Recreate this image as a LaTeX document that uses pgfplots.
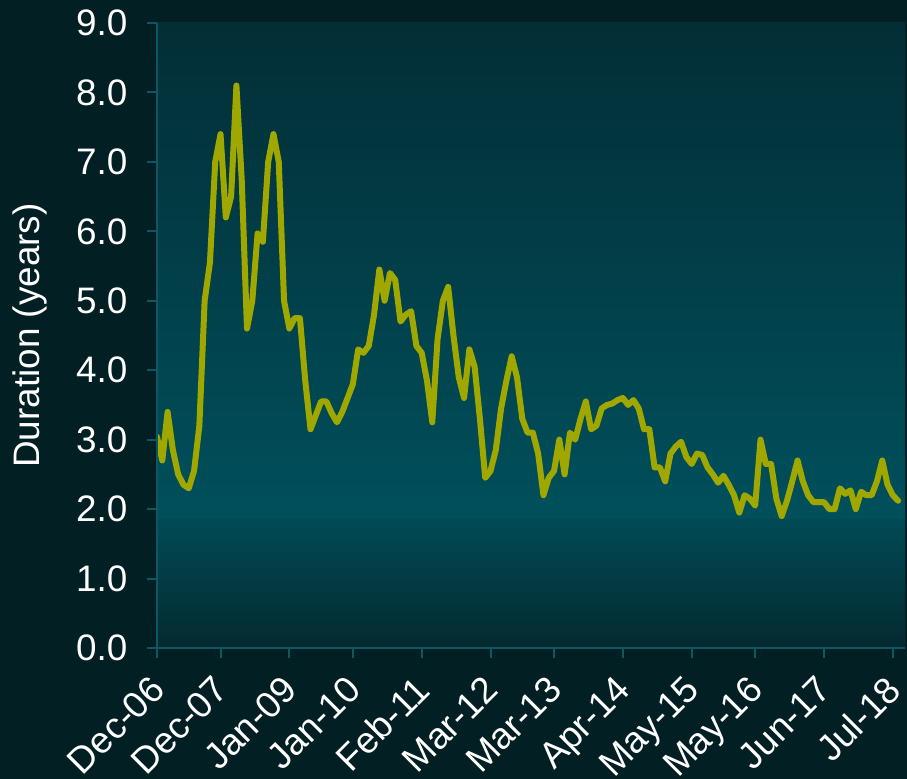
\documentclass[border=0pt]{standalone}
\usepackage{pgfplots}
\pgfplotsset{compat=1.18}
\usepackage{fontspec}
\setmainfont{Liberation Sans}
\definecolor{outerbg}{RGB}{2,31,35}
\definecolor{plottop}{RGB}{3,46,54}
\definecolor{plotmid}{RGB}{0,80,92}
\definecolor{plotmidb}{RGB}{1,74,85}
\definecolor{plotbot}{RGB}{4,42,48}
\definecolor{axcol}{RGB}{14,86,98}
\definecolor{linecol}{RGB}{160,168,0}
\pgfplotstableread{
m v
0 3.04
1 2.70
2 3.40
3 2.85
4 2.50
5 2.35
6 2.30
7 2.55
8 3.20
9 5.00
10 5.55
11 7.00
12 7.40
13 6.20
14 6.50
15 8.10
16 6.75
17 4.60
18 5.00
19 5.97
20 5.85
21 7.00
22 7.40
23 7.00
24 5.00
25 4.60
26 4.75
27 4.75
28 3.85
29 3.15
30 3.35
31 3.55
32 3.55
33 3.38
34 3.25
35 3.40
36 3.60
37 3.80
38 4.30
39 4.25
40 4.35
41 4.80
42 5.45
43 5.00
44 5.40
45 5.30
46 4.70
47 4.80
48 4.85
49 4.35
50 4.25
51 3.85
52 3.25
53 4.45
54 5.00
55 5.20
56 4.50
57 3.90
58 3.60
59 4.30
60 4.05
61 3.30
62 2.45
63 2.55
64 2.85
65 3.45
66 3.85
67 4.20
68 3.90
69 3.30
70 3.10
71 3.10
72 2.80
73 2.20
74 2.45
75 2.55
76 3.00
77 2.50
78 3.10
79 3.00
80 3.30
81 3.55
82 3.15
83 3.20
84 3.45
85 3.50
86 3.52
87 3.57
88 3.60
89 3.50
90 3.57
91 3.45
92 3.15
93 3.15
94 2.60
95 2.60
96 2.40
97 2.80
98 2.90
99 2.97
100 2.75
101 2.65
102 2.80
103 2.78
104 2.60
105 2.50
106 2.38
107 2.48
108 2.35
109 2.20
110 1.95
111 2.20
112 2.15
113 2.05
114 3.00
115 2.65
116 2.65
117 2.15
118 1.90
119 2.12
120 2.40
121 2.70
122 2.40
123 2.20
124 2.10
125 2.10
126 2.10
127 2.00
128 2.00
129 2.30
130 2.22
131 2.27
132 2.00
133 2.25
134 2.20
135 2.20
136 2.40
137 2.70
138 2.35
139 2.20
140 2.12
}\durdata
\begin{document}
\begin{tikzpicture}[x=1bp,y=1bp]
\path[use as bounding box, fill=outerbg] (0,0) rectangle (907,779);
\begin{axis}[
  at={(157bp,131bp)}, anchor=south west,
  width=748bp, height=625bp, scale only axis,
  xmin=0, xmax=141.3, ymin=0, ymax=9,
  enlargelimits=false,
  axis x line*=bottom, axis y line*=left,
  axis line style={-, draw=axcol, line width=2bp},
  axis on top,
  xtick={0,12,25,37,50,63,75,88,101,113,126,139},
  xticklabels={Dec-06,Dec-07,Jan-09,Jan-10,Feb-11,Mar-12,Mar-13,Apr-14,May-15,May-16,Jun-17,Jul-18},
  ytick={0,1,...,9},
  tick align=outside, major tick length=10bp,
  tick style={draw=axcol, line width=2bp},
  /pgf/number format/assume math mode=true,
  /pgf/number format/fixed,
  /pgf/number format/fixed zerofill,
  /pgf/number format/precision=1,
  ticklabel style={font=\fontsize{37}{44}\selectfont, text=white},
  y tick label style={xshift=-16bp},
  x tick label style={rotate=45, anchor=north east, inner sep=2bp, yshift=-3bp, xshift=-15bp},
  ylabel={Duration (years)},
  ylabel style={at={(axis description cs:-0.1698,0.5)}, anchor=center, font=\fontsize{37}{44}\selectfont, text=white},
  clip=true,
]
\shade[top color=plottop, bottom color=plotmid] (rel axis cs:0,1) rectangle (rel axis cs:1,0.205);
\shade[top color=plotmidb, bottom color=plotbot] (rel axis cs:0,0.206) rectangle (rel axis cs:1,0);
\addplot[draw=linecol, line width=6bp, line join=round, line cap=round] table[x=m, y=v] {\durdata};
\end{axis}
\end{tikzpicture}
\end{document}
